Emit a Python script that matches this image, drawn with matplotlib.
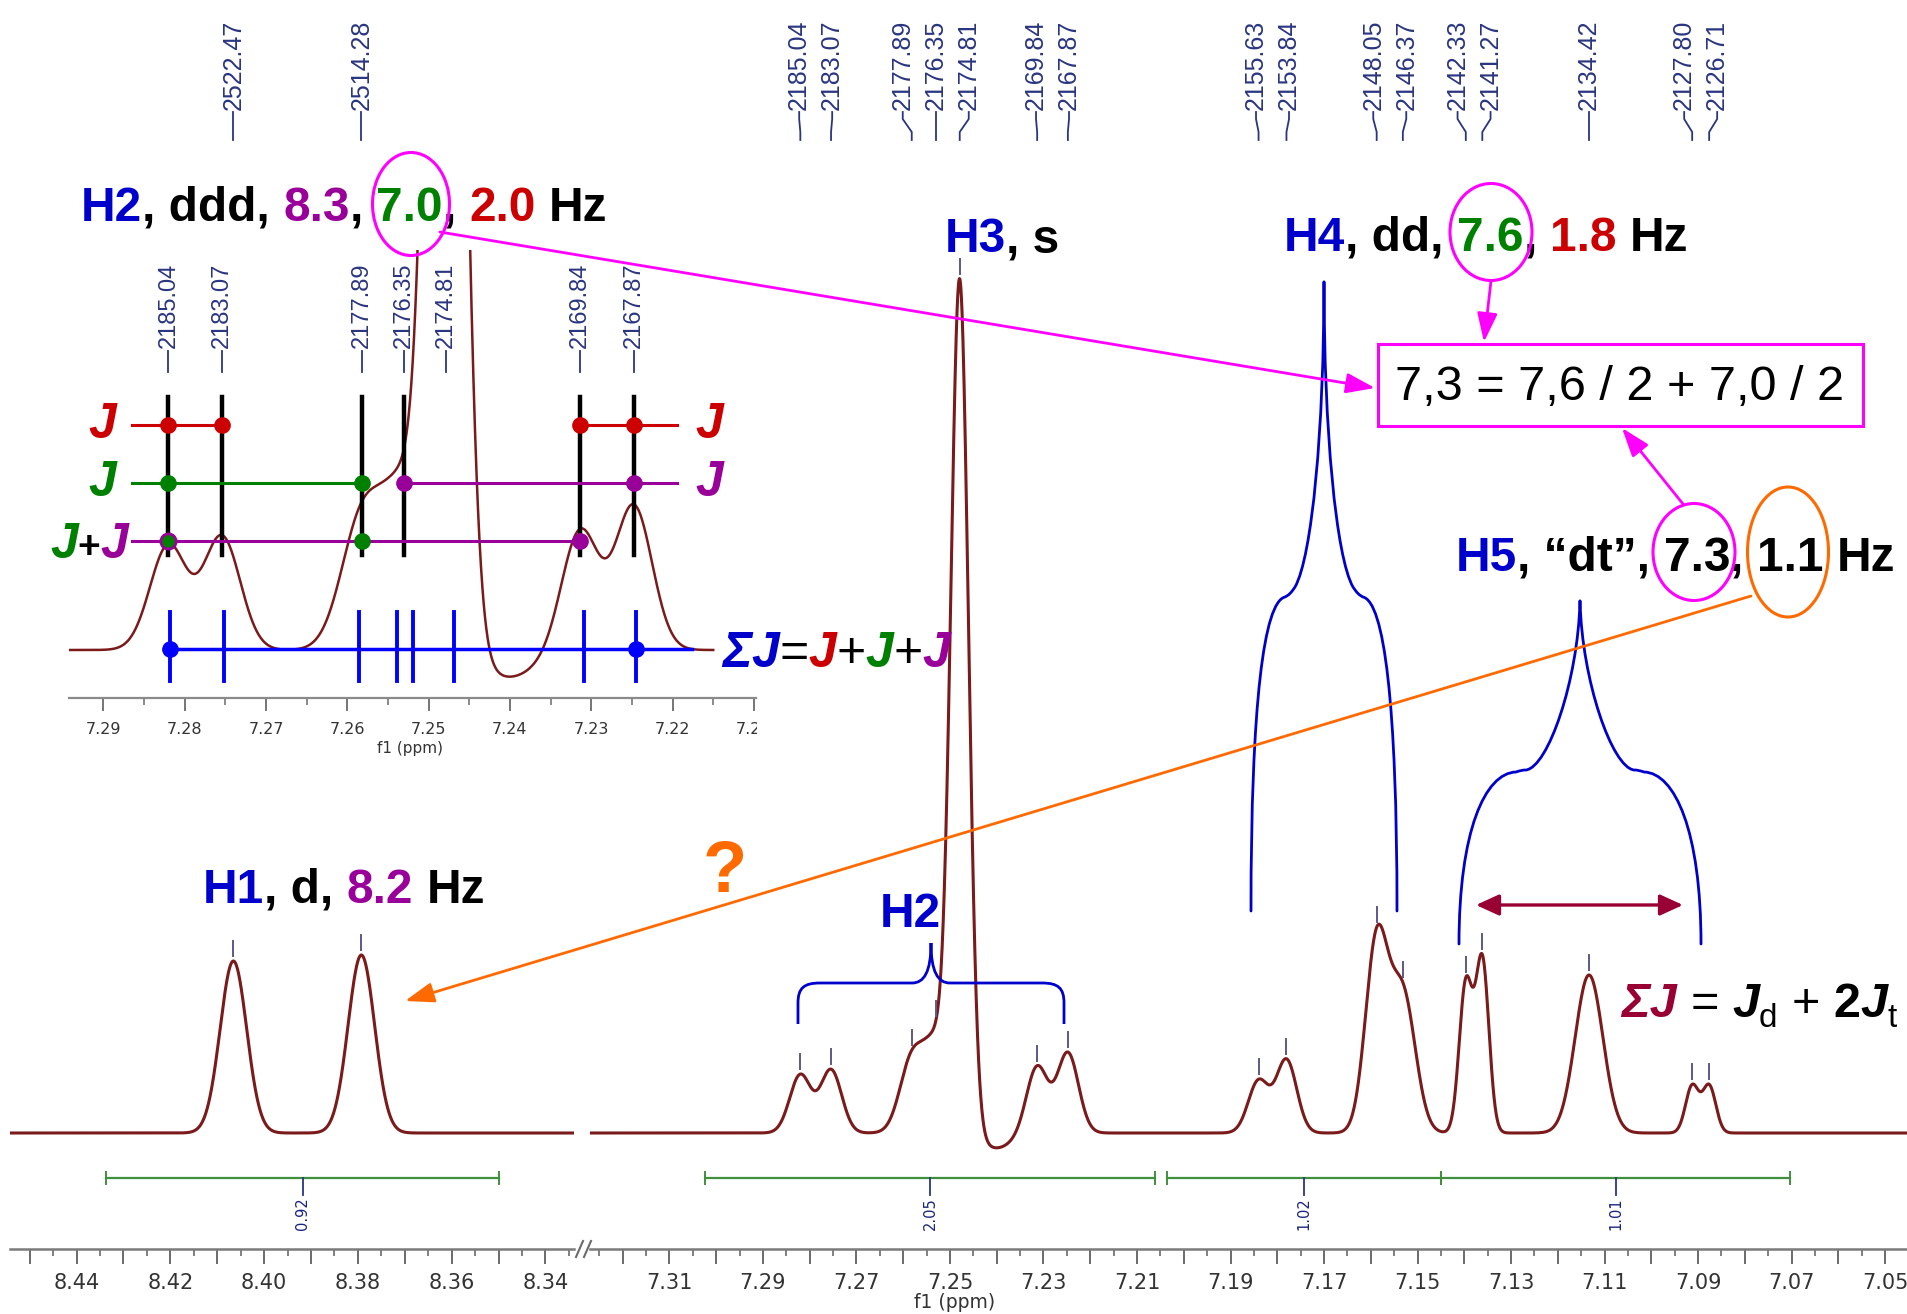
import numpy as np
import matplotlib
matplotlib.use("Agg")
import matplotlib.pyplot as plt
from matplotlib.patches import Ellipse, Rectangle, FancyArrowPatch, PathPatch, ArrowStyle
from matplotlib.path import Path
from matplotlib.transforms import Bbox
from matplotlib.ticker import FixedLocator, MultipleLocator, FuncFormatter, NullFormatter

FAM = ["Liberation Sans", "DejaVu Sans"]
AXFAM = ["DejaVu Sans"]
plt.rcParams["font.family"] = FAM

W, H = 1907, 1314
SF = 300.06  # spectrometer frequency (MHz)

# ---------------- data ----------------
# picked lines (Hz)
peak_hz = [2522.47, 2514.28, 2185.04, 2183.07, 2177.89, 2176.35, 2174.81,
           2169.84, 2167.87, 2155.63, 2153.84, 2148.05, 2146.37, 2142.33,
           2141.27, 2134.42, 2127.80, 2126.71]
line_amp = [172, 178, 58, 63, 72, 83, 845, 67, 80, 52, 73, 190, 138, 148,
            172, 158, 47, 47]
line_fwhm = [2.0, 2.0, 1.6, 1.6, 1.8, 1.8, 1.32, 1.6, 1.6, 1.55, 1.55, 1.7,
             1.9, 1.0, 1.0, 2.1, 1.0, 1.0]
# phase distortion on the high-field side of the H3 singlet
artefact_hz = [2172.5]
artefact_amp = [-15]
artefact_fwhm = [2.6]

# integrals (ppm ranges and values)
integral_from = [8.4337, 7.3024, 7.2036, 7.1450]
integral_to = [8.3499, 7.2061, 7.1450, 7.0703]
integral_val = ["0.92", "2.05", "1.02", "1.01"]

# labelled axis ticks
left_ticks = [8.44, 8.42, 8.40, 8.38, 8.36, 8.34]
right_ticks = [7.31, 7.29, 7.27, 7.25, 7.23, 7.21, 7.19, 7.17, 7.15, 7.13,
               7.11, 7.09, 7.07, 7.05]
inset_ticks = [7.29, 7.28, 7.27, 7.26, 7.25, 7.24, 7.23, 7.22, 7.21]

# H2 (ddd) analysis shown in the inset
inset_peaks_hz = [2185.04, 2183.07, 2177.89, 2176.35, 2174.81, 2169.84, 2167.87]
tree_hz = [2185.04, 2183.07, 2177.89, 2176.35, 2169.84, 2167.87]
sum_lines_hz = [2185.0, 2183.0, 2178.0, 2176.6, 2176.0, 2174.5, 2169.7, 2167.8]

# ---------------- colours ----------------
SPEC = "#7a1a1a"
NAVY = "#2a3580"
BLUE = "#0000cc"
PURPLE = "#990099"
GREEN = "#008000"
RED = "#cc0000"
MAGENTA = "#ff00ff"
ORANGE = "#ff6a00"
WINE = "#990033"
INTG = "#3f8f3f"


def spectrum(ppm):
    hz = np.asarray(ppm, dtype=float) * SF
    y = np.zeros_like(hz)
    for c, a, f in zip(peak_hz + artefact_hz, line_amp + artefact_amp,
                       line_fwhm + artefact_fwhm):
        s = f / 2.3548
        y += a * np.exp(-0.5 * ((hz - c) / s) ** 2)
    return y


fig = plt.figure(figsize=(W / 100, H / 100), dpi=100)
fig.patch.set_facecolor("white")


def rect(x0, y0, x1, y1):
    return [x0 / W, 1 - y1 / H, (x1 - x0) / W, (y1 - y0) / H]


def labeller(labelled):
    def f(v, pos):
        return f"{v:.2f}" if any(abs(v - t) < 1e-6 for t in labelled) else ""
    return FuncFormatter(f)


SPINE_Y, BASE_Y, TOP_Y = 1249, 1133, 140

axL = fig.add_axes(rect(10, TOP_Y, 574, SPINE_Y))
axR = fig.add_axes(rect(590, TOP_Y, 1907, SPINE_Y))
ranges = {axL: (8.4542, 8.3339), axR: (7.3270, 7.0453)}
ticks = {axL: left_ticks, axR: right_ticks}

for ax in (axL, axR):
    a, b = ranges[ax]
    ax.set_xlim(a, b)
    ax.set_ylim(-(SPINE_Y - BASE_Y), BASE_Y - TOP_Y)
    ax.set_facecolor("none")
    g = np.linspace(a, b, 6000)
    ax.plot(g, spectrum(g), color=SPEC, lw=2.2, solid_joinstyle="round", zorder=3)
    for sp in ("top", "left", "right"):
        ax.spines[sp].set_visible(False)
    ax.spines["bottom"].set_color("#7a7a7a")
    ax.spines["bottom"].set_linewidth(1.8)
    ax.xaxis.set_major_locator(MultipleLocator(0.01))
    ax.xaxis.set_major_formatter(labeller(ticks[ax]))
    ax.xaxis.set_minor_locator(MultipleLocator(0.005))
    ax.tick_params(axis="x", which="major", direction="out", length=11, width=1.4,
                   color="#6a6a6a", labelcolor="#333333", labelsize=15, pad=6)
    ax.tick_params(axis="x", which="minor", direction="out", length=5, width=1.2,
                   color="#6a6a6a")
    for lbl in ax.get_xticklabels():
        lbl.set_family(AXFAM)
    ax.set_yticks([])

# inset: expanded view of the H2/H3 region
axI = fig.add_axes(rect(69, 250, 756, 698))
ins_a, ins_b = 7.29424, 7.20974
axI.set_xlim(ins_a, ins_b)
axI.set_ylim(-(698 - 650) / 1.8, (650 - 250) / 1.8)
axI.set_facecolor("none")
gi = np.linspace(ins_a, 7.2150, 4000)
axI.plot(gi, spectrum(gi), color=SPEC, lw=1.8, zorder=3)
for sp in ("top", "left", "right"):
    axI.spines[sp].set_visible(False)
axI.spines["bottom"].set_color("#8a8a8a")
axI.spines["bottom"].set_linewidth(1.6)
axI.xaxis.set_major_locator(FixedLocator(inset_ticks))
axI.xaxis.set_major_formatter(NullFormatter())
axI.xaxis.set_minor_locator(MultipleLocator(0.005))
axI.tick_params(axis="x", which="major", direction="out", length=9, width=1.3, color="#6a6a6a")
axI.tick_params(axis="x", which="minor", direction="out", length=5, width=1.1, color="#6a6a6a")
axI.set_yticks([])

# overlay in pixel coordinates (origin top-left)
ov = fig.add_axes([0, 0, 1, 1])
ov.set_xlim(0, W)
ov.set_ylim(H, 0)
ov.axis("off")
ov.patch.set_visible(False)
ov.set_zorder(10)
renderer = fig.canvas.get_renderer()


def to_px(ax, x, y=0.0):
    d = ax.transData.transform((x, y))
    return d[0], H - d[1]


def main_ax(ppm):
    return axL if ppm > 8 else axR


def spread(xs, gap):
    pos = list(xs)
    for _ in range(200):
        moved = False
        for i in range(len(pos) - 1):
            d = pos[i + 1] - pos[i]
            if d < gap - 1e-6:
                s = (gap - d) / 2
                pos[i] -= s
                pos[i + 1] += s
                moved = True
        if not moved:
            break
    return pos


# ---- peak-pick marks and labels on the main spectrum ----
main_px = []
for hz in peak_hz:
    ppm = hz / SF
    ax = main_ax(ppm)
    yv = float(spectrum(ppm))
    ax.plot([ppm, ppm], [yv + 5, yv + 20], color="#5a5a8a", lw=1.4, zorder=4)
    main_px.append(to_px(ax, ppm)[0])

order = np.argsort(main_px)
xs_sorted = [main_px[i] for i in order]
lab_sorted = spread(xs_sorted, 33)
for k, i in enumerate(order):
    px, lx = main_px[i], lab_sorted[k]
    ov.plot([lx, lx, px, px], [112, 119, 132, 140], color=NAVY, lw=1.3)
    ov.text(lx, 110, f"{peak_hz[i]:.2f}", rotation=90, ha="center", va="bottom",
            fontsize=18, color=NAVY, family=FAM)

# ---- integrals ----
for a, b, v in zip(integral_from, integral_to, integral_val):
    ax = main_ax(a)
    ax.plot([a, b], [-45, -45], color=INTG, lw=1.6, zorder=3)
    for e in (a, b):
        ax.plot([e, e], [-39, -51], color=INTG, lw=1.4, zorder=3)
    m = (a + b) / 2
    ax.plot([m, m], [-45, -62], color=NAVY, lw=1.3, zorder=3)
    mx, _ = to_px(ax, m)
    ov.text(mx, 1197, v, rotation=90, ha="center", va="top", fontsize=10.5,
            color="#1a237e", family=AXFAM)

# axis break marks and axis title
for dx in (0, 8):
    ov.plot([576 + dx, 583 + dx], [1257, 1241], color="#6a6a6a", lw=1.5)
ov.text(955, 1303, "f1 (ppm)", ha="center", va="center", fontsize=13.5, color="#333333",
        family=AXFAM)

# ---- inset labels, ticks, tree ----
clip = Bbox.from_extents(0, 0, 757, H)
for t in inset_ticks:
    x, _ = to_px(axI, t)
    tx = ov.text(x, 729, f"{t:.2f}", ha="center", va="center", fontsize=11.5,
                 color="#333333", family=AXFAM)
    tx.set_clip_box(clip)
    tx.set_clip_on(True)
ov.text(410, 749, "f1 (ppm)", ha="center", va="center", fontsize=11, color="#333333",
        family=AXFAM)

ipx = [to_px(axI, hz / SF)[0] for hz in inset_peaks_hz]
ilab = spread(ipx, 26)
for hz, px, lx in zip(inset_peaks_hz, ipx, ilab):
    ov.plot([lx, lx, px, px], [351, 356, 366, 372], color=NAVY, lw=1.3)
    ov.text(lx, 348, f"{hz:.2f}", rotation=90, ha="center", va="bottom",
            fontsize=17, color=NAVY, family=FAM)


def ix(hz):
    return to_px(axI, hz / SF)[0]


Y_RED, Y_MID, Y_SUM2, Y_SUM = 425, 483, 541, 649
for hz in tree_hz:
    ov.plot([ix(hz)] * 2, [397, 555], color="black", lw=3.2, zorder=3)

ov.plot([132, ix(2183.07)], [Y_RED] * 2, color=RED, lw=2.2, zorder=3)
ov.plot([ix(2169.84), 677], [Y_RED] * 2, color=RED, lw=2.2, zorder=3)
ov.plot([132, ix(2177.89)], [Y_MID] * 2, color=GREEN, lw=2.2, zorder=3)
ov.plot([ix(2176.35), 677], [Y_MID] * 2, color=PURPLE, lw=2.2, zorder=3)
ov.plot([132, ix(2169.84)], [Y_SUM2] * 2, color=PURPLE, lw=2.2, zorder=3)
ov.plot([164, 692], [Y_SUM] * 2, color="#0000ff", lw=2.5, zorder=3)
for hz in sum_lines_hz:
    ov.plot([ix(hz)] * 2, [612, 681], color="#0000ff", lw=2.8, zorder=3)

dot = dict(marker="o", ms=11, zorder=5, ls="none")
ov.plot([ix(2185.04), ix(2183.07), ix(2169.84), ix(2167.87)], [Y_RED] * 4, color=RED, **dot)
ov.plot([ix(2185.04), ix(2177.89)], [Y_MID] * 2, color=GREEN, **dot)
ov.plot([ix(2176.35), ix(2167.87)], [Y_MID] * 2, color=PURPLE, **dot)
ov.plot([ix(2185.04)], [Y_SUM2], color=GREEN, mec=PURPLE, mew=2, **dot)
ov.plot([ix(2177.89)], [Y_SUM2], color=GREEN, **dot)
ov.plot([ix(2169.84)], [Y_SUM2], color=PURPLE, **dot)
ov.plot([ix(sum_lines_hz[0]), ix(sum_lines_hz[-1])], [Y_SUM] * 2, color="#0000ff", **dot)


# ---- rich text helper ----
def adv(s, size, weight, style):
    kw = dict(fontsize=size, fontweight=weight, fontstyle=style, family=FAM)
    t = ov.text(0, 0, "|" + s + "|", **kw)
    a = t.get_window_extent(renderer).width
    t.set_text("||")
    b = t.get_window_extent(renderer).width
    t.remove()
    return a - b


def rich(x, y, parts, size=34.5):
    for p in parts:
        s, color = p[0], p[1]
        o = p[2] if len(p) > 2 else {}
        sz = o.get("size", size)
        wt = o.get("weight", "bold")
        st = o.get("style", "normal")
        dy = o.get("dy", 0)
        core = s.strip()
        lead = len(s) - len(s.lstrip())
        if core:
            xd = x + (adv(" " * lead, sz, wt, st) if lead else 0)
            ov.text(xd, y + dy, core, color=color, fontsize=sz, fontweight=wt,
                    fontstyle=st, family=FAM, ha="left", va="baseline", zorder=6)
        x += adv(s, sz, wt, st)
    return x


BI = {"style": "italic"}
K = "black"

rich(81, 221, [("H2", BLUE), (", ddd, ", K), ("8.3", PURPLE), (", ", K),
               ("7.0", GREEN), (", ", K), ("2.0", RED), (" Hz", K)])
rich(945, 252, [("H3", BLUE), (", s", K)])
rich(1284, 251, [("H4", BLUE), (", dd, ", K), ("7.6", GREEN), (", ", K),
                 ("1.8", RED), (" Hz", K)])
rich(1456, 571, [("H5", BLUE), (", \u201cdt\u201d, ", K), ("7.3", K), (", ", K),
                 ("1.1", K), (" Hz", K)])
rich(203, 903, [("H1", BLUE), (", d, ", K), ("8.2", PURPLE), (" Hz", K)])
rich(880, 927, [("H2", BLUE)])

# J labels around the tree
for (x, y, c) in [(102, 425, RED), (102, 483, GREEN), (709, 425, RED), (709, 483, PURPLE)]:
    ov.text(x, y, "J", color=c, fontsize=36, fontweight="bold", fontstyle="italic",
            ha="center", va="center", zorder=6)
rich(50, 558, [("J", GREEN, BI), ("+", K, {"size": 28}), ("J", PURPLE, BI)], size=36)
rich(722, 667, [("\u03a3", BLUE, BI), ("J", BLUE, BI), ("=", K, {"weight": "normal"}),
                ("J", RED, BI), ("+", K, {"weight": "normal"}), ("J", GREEN, BI),
                ("+", K, {"weight": "normal"}), ("J", PURPLE, BI)], size=36)
rich(1621, 1017, [("\u03a3J", WINE, BI), (" = ", K, {"weight": "normal"}),
                  ("J", K, BI), ("d", K, {"weight": "normal", "size": 24, "dy": 10}),
                  (" + ", K, {"weight": "normal"}), ("2", K), ("J", K, BI),
                  ("t", K, {"weight": "normal", "size": 24, "dy": 10})], size=35)

ov.text(725, 892, "?", color=ORANGE, fontsize=52, fontweight="bold", ha="center",
        va="baseline", zorder=6)

# box with the averaged coupling
ov.add_patch(Rectangle((1378, 344), 485, 82, fill=False, ec=MAGENTA, lw=2.2, zorder=6))
ov.text(1620, 388, "7,3 = 7,6 / 2 + 7,0 / 2", ha="center", va="center", fontsize=35,
        color=K, zorder=6)

# ellipses
for (cx, cy, w, h, c) in [(411, 204, 77, 103, MAGENTA), (1491, 232, 82, 97, MAGENTA),
                          (1694, 552, 82, 97, MAGENTA), (1788, 552, 81, 130, ORANGE)]:
    ov.add_patch(Ellipse((cx, cy), w, h, fill=False, ec=c, lw=2.2, zorder=6))

# arrows
head = ArrowStyle("-|>", head_length=0.8, head_width=0.28)
for (p0, p1, c) in [((440, 232), (1375, 388), MAGENTA), ((1491, 281), (1484, 342), MAGENTA),
                    ((1683, 504), (1622, 428), MAGENTA), ((1751, 596), (405, 1001), ORANGE)]:
    ov.add_patch(FancyArrowPatch(p0, p1, arrowstyle=head, mutation_scale=22, color=c,
                                 lw=2.0, shrinkA=0, shrinkB=0, zorder=7))
dbl = ArrowStyle("<|-|>", head_length=0.7, head_width=0.32)
ov.add_patch(FancyArrowPatch((1476, 905), (1683, 905), arrowstyle=dbl, mutation_scale=20,
                             color=WINE, lw=2.4, shrinkA=0, shrinkB=0, zorder=7))


# ---- braces / splitting outlines ----
def tree_outline(cx, ty, segs):
    verts, codes = [], []
    for sgn in (-1, 1):
        verts.append((cx, ty))
        codes.append(Path.MOVETO)
        for seg in segs:
            for (dx, dy) in seg:
                verts.append((cx + sgn * dx, ty + dy))
                codes.append(Path.CURVE4)
    return Path(verts, codes)


h4 = [[(0, 148), (-12, 275), (-29, 305)],
      [(-33, 311), (-35, 313), (-39, 315)],
      [(-60, 320), (-73, 420), (-73, 629)]]
h5 = [[(-2, 80), (-32, 166), (-54, 169)],
      [(-58, 169), (-61, 170), (-64, 171)],
      [(-95, 172), (-121, 230), (-121, 343)]]
for cx, ty, segs in [(1324, 282, h4), (1580, 601, h5)]:
    ov.add_patch(PathPatch(tree_outline(cx, ty, segs), fill=False, ec=BLUE, lw=2.0,
                           zorder=5, capstyle="round"))

brace = Path([(798, 1024), (798, 1003), (798, 988), (804, 983), (820, 983), (912, 983),
              (924, 983), (931, 972), (931, 943),
              (931, 943), (931, 972), (938, 983), (950, 983), (1042, 983),
              (1058, 983), (1064, 988), (1064, 1003), (1064, 1024)],
             [Path.MOVETO, Path.LINETO, Path.CURVE4, Path.CURVE4, Path.CURVE4, Path.LINETO,
              Path.CURVE4, Path.CURVE4, Path.CURVE4,
              Path.MOVETO, Path.CURVE4, Path.CURVE4, Path.CURVE4, Path.LINETO,
              Path.CURVE4, Path.CURVE4, Path.CURVE4, Path.LINETO])
ov.add_patch(PathPatch(brace, fill=False, ec=BLUE, lw=2.0, zorder=5))

fig.savefig("out.png", dpi=100, facecolor="white")
